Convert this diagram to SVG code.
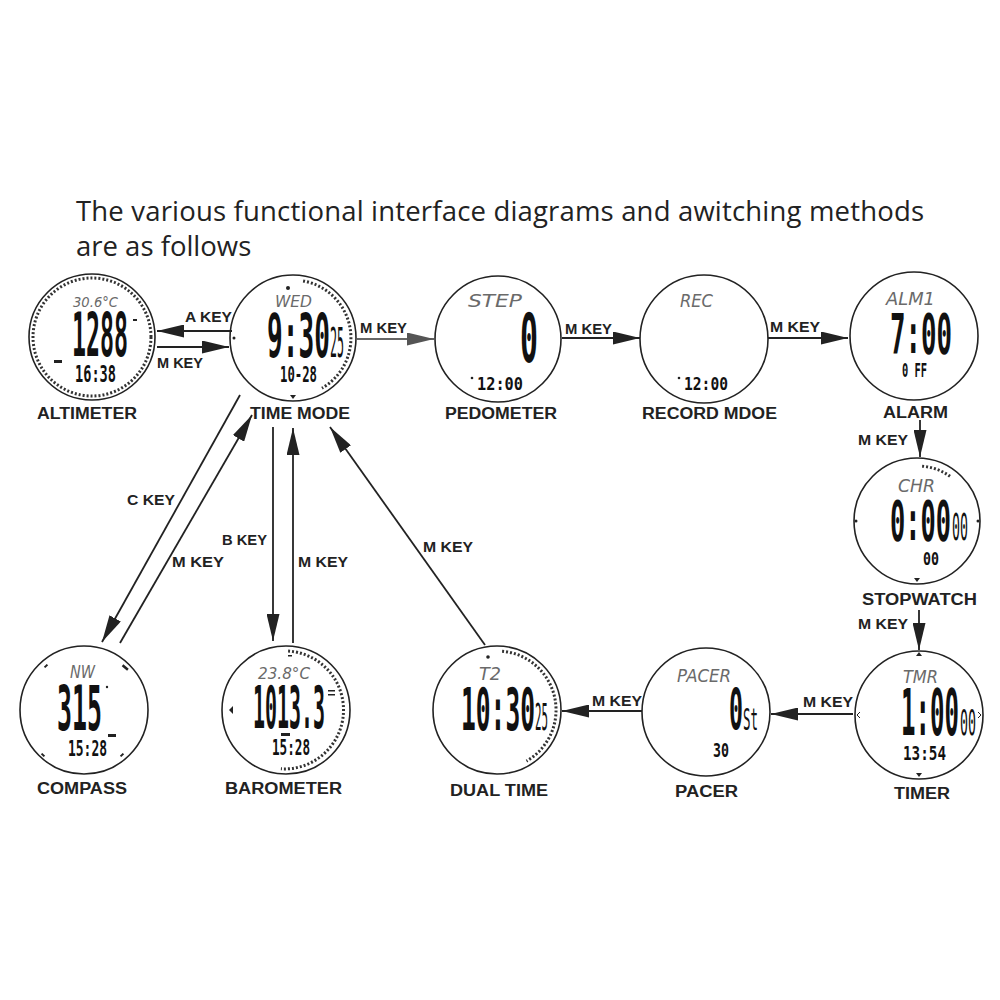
<svg xmlns="http://www.w3.org/2000/svg" width="1000" height="1000" viewBox="0 0 1000 1000">
<style>
.bg{fill:#fff}
.title{font-family:"Open Sans","Noto Sans",sans-serif;font-size:27.5px;fill:#222}
.face{fill:#fff;stroke:#222;stroke-width:1.6}
.ring{fill:none;stroke:#333;stroke-width:3;stroke-dasharray:2 2}
.lcd{font-family:"DejaVu Sans Mono","Liberation Mono",monospace;font-weight:bold;fill:#111}
.lcdn{font-family:"DejaVu Sans Mono","Liberation Mono",monospace;font-weight:normal;fill:#111}
.gray{font-family:"DejaVu Sans","Liberation Sans",sans-serif;font-style:italic;fill:#6a6a6a}
.lbl{font-family:"Liberation Sans",Arial,sans-serif;font-weight:bold;font-size:16px;fill:#222}
.key{font-family:"Liberation Sans",Arial,sans-serif;font-weight:bold;font-size:14px;fill:#222}
.edge{stroke:#222;stroke-width:1.8;fill:none;marker-end:url(#ah)}
.edgeg{stroke:#666;stroke-width:2;fill:none;marker-end:url(#ahg)}
.mk{fill:#222}
</style>
<defs>
<marker id="ah" markerUnits="userSpaceOnUse" markerWidth="27" markerHeight="13" refX="27" refY="6.5" orient="auto"><path d="M0,0 L27,6.5 L0,13 Z" fill="#222"/></marker>
<marker id="ahg" markerUnits="userSpaceOnUse" markerWidth="27" markerHeight="13" refX="27" refY="6.5" orient="auto"><path d="M0,0 L27,6.5 L0,13 Z" fill="#555"/></marker>
</defs>
<rect class="bg" x="0" y="0" width="1000" height="1000"/>

<g id="title">
<text class="title" x="76" y="221" textLength="848">The various functional interface diagrams and awitching methods</text>
<text class="title" x="76" y="256">are as follows</text>
</g>

<g id="altimeter">
<circle class="face" cx="92" cy="337" r="63"/>
<circle class="ring" cx="92" cy="337" r="59" stroke-width="2.5"/>
<text class="gray" x="73" y="307" font-size="14" textLength="45" lengthAdjust="spacingAndGlyphs" font-style="normal" fill="#444">30.6°C</text>
<text class="lcd" x="72" y="356" font-size="60" textLength="56" lengthAdjust="spacingAndGlyphs">1288</text>
<rect class="mk" x="133" y="319" width="4" height="2"/>
<rect class="mk" x="54" y="360" width="8" height="3"/>
<text class="lcd" x="75" y="382" font-size="23" textLength="41" lengthAdjust="spacingAndGlyphs">16:38</text>
<text class="lbl" x="37" y="419" textLength="100" lengthAdjust="spacingAndGlyphs">ALTIMETER</text>
</g>

<g id="time-mode">
<circle class="face" cx="293" cy="338" r="63"/>
<path class="ring" d="M303.1,280.9 A58,58 0 0 1 322,388.2"/>
<circle class="mk" cx="288" cy="288" r="2"/>
<circle class="mk" cx="234" cy="338" r="1.5"/>
<path class="mk" d="M290,395 L296,395 L293,399 Z"/>
<text class="gray" x="275" y="307" font-size="16" textLength="37" lengthAdjust="spacingAndGlyphs">WED</text>
<text class="lcd" x="267" y="357" font-size="60" textLength="63" lengthAdjust="spacingAndGlyphs">9:30</text>
<text class="lcdn" x="330" y="357" font-size="40" textLength="14" lengthAdjust="spacingAndGlyphs">25</text>
<text class="lcd" x="280" y="382" font-size="21" textLength="37" lengthAdjust="spacingAndGlyphs">10-28</text>
<text class="lbl" x="250" y="419" textLength="100" lengthAdjust="spacingAndGlyphs">TIME MODE</text>
</g>

<g id="pedometer">
<circle class="face" cx="498" cy="339" r="63"/>
<text class="gray" x="468" y="307" font-size="17" textLength="54" lengthAdjust="spacingAndGlyphs">STEP</text>
<text class="lcd" x="520" y="362" font-size="67" textLength="18" lengthAdjust="spacingAndGlyphs">0</text>
<circle class="mk" cx="472" cy="378" r="1.3"/>
<text class="lcd" x="477" y="390" font-size="18" textLength="46" lengthAdjust="spacingAndGlyphs">12:00</text>
<text class="lbl" x="445" y="419" textLength="112" lengthAdjust="spacingAndGlyphs">PEDOMETER</text>
</g>

<g id="record-mode">
<circle class="face" cx="704" cy="339" r="64"/>
<text class="gray" x="680" y="307" font-size="17" textLength="33" lengthAdjust="spacingAndGlyphs">REC</text>
<circle class="mk" cx="679" cy="378" r="1.3"/>
<text class="lcd" x="684" y="390" font-size="18" textLength="44" lengthAdjust="spacingAndGlyphs">12:00</text>
<text class="lbl" x="642" y="419" textLength="135" lengthAdjust="spacingAndGlyphs">RECORD MDOE</text>
</g>

<g id="alarm">
<circle class="face" cx="914" cy="336" r="64"/>
<text class="gray" x="886" y="305" font-size="17" textLength="49" lengthAdjust="spacingAndGlyphs">ALM1</text>
<text class="lcd" x="890" y="353" font-size="56" textLength="62" lengthAdjust="spacingAndGlyphs">7:00</text>
<text class="lcd" x="902" y="377" font-size="19" textLength="25" lengthAdjust="spacingAndGlyphs">0 FF</text>
<text class="lbl" x="883" y="418" textLength="65" lengthAdjust="spacingAndGlyphs">ALARM</text>
</g>

<g id="stopwatch">
<circle class="face" cx="917" cy="521" r="63"/>
<path class="ring" d="M922.1,466.2 A55,55 0 0 1 950.3,476.5"/>
<circle class="mk" cx="856" cy="521" r="1.5"/>
<circle class="mk" cx="978" cy="521" r="1.5"/>
<path class="mk" d="M914,578 L920,578 L917,582 Z"/>
<text class="gray" x="898" y="492" font-size="17" textLength="37" lengthAdjust="spacingAndGlyphs">CHR</text>
<text class="lcd" x="890" y="540" font-size="55" textLength="61" lengthAdjust="spacingAndGlyphs">0:00</text>
<text class="lcdn" x="952" y="540" font-size="38" textLength="16" lengthAdjust="spacingAndGlyphs">00</text>
<text class="lcd" x="923" y="565" font-size="17" textLength="16" lengthAdjust="spacingAndGlyphs">00</text>
<text class="lbl" x="862" y="605" textLength="115" lengthAdjust="spacingAndGlyphs">STOPWATCH</text>
</g>

<g id="compass">
<circle class="face" cx="84" cy="710" r="64"/>
<rect class="mk" x="44" y="665" width="4" height="2" transform="rotate(-45 46 666)"/>
<rect class="mk" x="122" y="666" width="7" height="2.5" transform="rotate(40 125 667)"/>
<rect class="mk" x="41" y="754" width="4" height="2" transform="rotate(45 43 755)"/>
<rect class="mk" x="120" y="754" width="4" height="2" transform="rotate(-45 122 755)"/>
<text class="gray" x="70" y="678" font-size="18" textLength="25" lengthAdjust="spacingAndGlyphs">NW</text>
<text class="lcd" x="57" y="730" font-size="62" textLength="45" lengthAdjust="spacingAndGlyphs">315</text>
<circle class="mk" cx="107" cy="687" r="1.2"/>
<rect class="mk" x="108" y="734" width="8" height="3"/>
<text class="lcd" x="68" y="756" font-size="22" textLength="39" lengthAdjust="spacingAndGlyphs">15:28</text>
<text class="lbl" x="37" y="794" textLength="90" lengthAdjust="spacingAndGlyphs">COMPASS</text>
</g>

<g id="barometer">
<circle class="face" cx="286" cy="710" r="64"/>
<path class="ring" d="M288.1,651 A59,59 0 1 1 280.9,768.8"/>
<path class="mk" d="M229,710 L233,706 L233,714 Z"/>
<rect class="mk" x="288" y="655" width="4" height="1.5"/>
<text class="gray" x="258" y="679" font-size="15" textLength="52" lengthAdjust="spacingAndGlyphs" font-style="normal" fill="#444">23.8°C</text>
<text class="lcd" x="253" y="728" font-size="59" textLength="72" lengthAdjust="spacingAndGlyphs">1013.3</text>
<rect class="mk" x="328" y="690" width="7" height="1.5"/>
<rect class="mk" x="328" y="694" width="7" height="1.5"/>
<rect class="mk" x="281" y="733" width="9" height="3"/>
<text class="lcd" x="272" y="755" font-size="21" textLength="38" lengthAdjust="spacingAndGlyphs">15:28</text>
<text class="lbl" x="225" y="794" textLength="117" lengthAdjust="spacingAndGlyphs">BAROMETER</text>
</g>

<g id="dual-time">
<circle class="face" cx="497" cy="710" r="64"/>
<path class="ring" d="M502.1,651.2 A59,59 0 0 1 526.5,761.1"/>
<circle class="mk" cx="488" cy="657" r="1.8"/>
<text class="gray" x="479" y="680" font-size="18" textLength="22" lengthAdjust="spacingAndGlyphs">T2</text>
<text class="lcd" x="461" y="730" font-size="59" textLength="74" lengthAdjust="spacingAndGlyphs">10:30</text>
<text class="lcdn" x="535" y="730" font-size="38" textLength="13" lengthAdjust="spacingAndGlyphs">25</text>
<text class="lbl" x="450" y="796" textLength="98" lengthAdjust="spacingAndGlyphs">DUAL TIME</text>
</g>

<g id="pacer">
<circle class="face" cx="706" cy="712" r="64"/>
<text class="gray" x="677" y="682" font-size="17" textLength="54" lengthAdjust="spacingAndGlyphs">PACER</text>
<text class="lcd" x="729" y="730" font-size="57" textLength="14" lengthAdjust="spacingAndGlyphs">0</text>
<text class="lcdn" x="743" y="730" font-size="30" textLength="15" lengthAdjust="spacingAndGlyphs">St</text>
<text class="lcd" x="713" y="757" font-size="19" textLength="16" lengthAdjust="spacingAndGlyphs">30</text>
<text class="lbl" x="675" y="797" textLength="63" lengthAdjust="spacingAndGlyphs">PACER</text>
</g>

<g id="timer">
<circle class="face" cx="919" cy="715" r="64"/>
<path class="mk" d="M916,656 L922,656 L919,652 Z"/>
<path class="mk" d="M916,773 L922,773 L919,777 Z"/>
<path d="M860,712 L857,715 L860,718" fill="none" stroke="#222" stroke-width="1"/>
<path d="M978,712 L981,715 L978,718" fill="none" stroke="#222" stroke-width="1"/>
<text class="gray" x="903" y="683" font-size="17" textLength="35" lengthAdjust="spacingAndGlyphs">TMR</text>
<text class="lcd" x="901" y="735" font-size="64" textLength="58" lengthAdjust="spacingAndGlyphs">1:00</text>
<text class="lcdn" x="960" y="735" font-size="36" textLength="16" lengthAdjust="spacingAndGlyphs">00</text>
<text class="lcd" x="903" y="760" font-size="19" textLength="43" lengthAdjust="spacingAndGlyphs">13:54</text>
<text class="lbl" x="894" y="799" textLength="56" lengthAdjust="spacingAndGlyphs">TIMER</text>
</g>

<g id="connectors">
<line class="edge" x1="232" y1="331" x2="157" y2="331"/>
<line class="edge" x1="157" y1="347" x2="229" y2="347"/>
<line class="edgeg" x1="357" y1="339" x2="434" y2="339"/>
<line class="edge" x1="562" y1="338" x2="640" y2="338"/>
<line class="edge" x1="768" y1="338" x2="848" y2="338"/>
<line class="edge" x1="920" y1="420" x2="920" y2="457"/>
<line class="edge" x1="919" y1="610" x2="919" y2="650"/>
<line class="edge" x1="853" y1="714" x2="771" y2="714"/>
<line class="edge" x1="642" y1="711" x2="562" y2="711"/>
<line class="edge" x1="485" y1="645" x2="330" y2="427"/>
<line class="edge" x1="273" y1="427" x2="273" y2="641"/>
<line class="edge" x1="293" y1="643" x2="293" y2="428"/>
<line class="edge" x1="240" y1="395" x2="102" y2="642"/>
<line class="edge" x1="120" y1="643" x2="252" y2="415"/>
<text class="key" x="185" y="322" textLength="47" lengthAdjust="spacingAndGlyphs">A KEY</text>
<text class="key" x="157" y="368" textLength="46" lengthAdjust="spacingAndGlyphs">M KEY</text>
<text class="key" x="360" y="333" textLength="47" lengthAdjust="spacingAndGlyphs">M KEY</text>
<text class="key" x="565" y="334" textLength="47" lengthAdjust="spacingAndGlyphs">M KEY</text>
<text class="key" x="770" y="332" textLength="50" lengthAdjust="spacingAndGlyphs">M KEY</text>
<text class="key" x="858" y="445" textLength="50" lengthAdjust="spacingAndGlyphs">M KEY</text>
<text class="key" x="858" y="629" textLength="50" lengthAdjust="spacingAndGlyphs">M KEY</text>
<text class="key" x="803" y="707" textLength="50" lengthAdjust="spacingAndGlyphs">M KEY</text>
<text class="key" x="592" y="706" textLength="50" lengthAdjust="spacingAndGlyphs">M KEY</text>
<text class="key" x="423" y="552" textLength="50" lengthAdjust="spacingAndGlyphs">M KEY</text>
<text class="key" x="222" y="545" textLength="45" lengthAdjust="spacingAndGlyphs">B KEY</text>
<text class="key" x="298" y="567" textLength="50" lengthAdjust="spacingAndGlyphs">M KEY</text>
<text class="key" x="127" y="505" textLength="48" lengthAdjust="spacingAndGlyphs">C KEY</text>
<text class="key" x="172" y="567" textLength="52" lengthAdjust="spacingAndGlyphs">M KEY</text>
</g>
</svg>
